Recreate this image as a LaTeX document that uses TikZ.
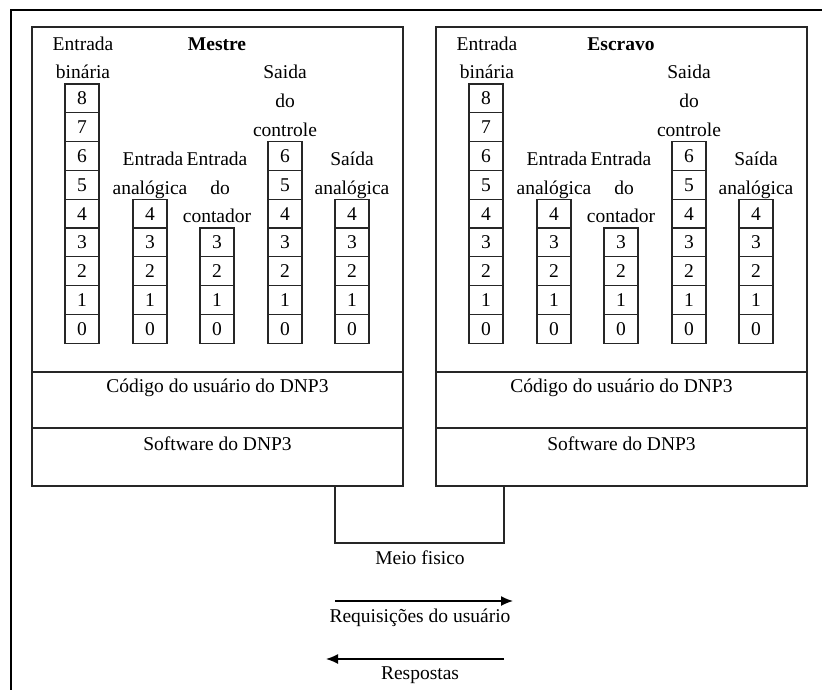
\documentclass[tikz,border=0pt]{standalone}
\usepackage{fontspec}
\setmainfont{Liberation Serif}
\usetikzlibrary{arrows.meta}
\begin{document}
\begin{tikzpicture}[x=1pt,y=-1pt,
  frame/.style={line width=2.8pt, line cap=rect},
  panel/.style={draw=black!85, line width=1.1pt, rectangle, inner sep=0pt, outer sep=0pt, minimum width=371pt},
  cell/.style={draw=black!85, line width=1.1pt, rectangle, minimum width=34pt, minimum height=28.8pt,
    inner sep=0pt, outer sep=0pt, font=\fontsize{19.5}{23}\selectfont},
  lbl/.style={anchor=base, inner sep=0pt, font=\fontsize{19.5}{23}\selectfont},
  ttl/.style={lbl, font=\fontsize{19.5}{23}\selectfont\bfseries},
  link/.style={draw=black!85, line width=1.1pt},
  flow/.style={line width=1.4pt, -{Latex[length=12pt,width=10pt]}}
]
\useasboundingbox (0,0) rectangle (822,689);

% outer frame (top and left edges only)
\draw[frame] (11,689) -- (11,10) -- (823,10);

% the two stations: master (m) and slave (e)
\foreach \s/\ox/\title in {m/0/Mestre, e/404/Escravo}{
  % panels
  \node[panel, minimum height=345pt] (\s-top)  at (\ox+217.5, 199.5) {};
  \node[panel, minimum height=56pt]  (\s-code) at (\ox+217.5, 400) {};
  \node[panel, minimum height=58pt]  (\s-soft) at (\ox+217.5, 457) {};
  \node[lbl] (\s-code-t) at (\ox+217.5, 392) {Código do usuário do DNP3};
  \node[lbl] (\s-soft-t) at (\ox+217.5, 450) {Software do DNP3};

  % point columns
  \foreach \c/\cx/\top in {bin/82/8, ana/150/4, cnt/217/3, ctl/285/6, sai/352/4}{
    \foreach \r in {0,...,\top}{
      \node[cell] (\s-\c-\r) at (\ox+\cx, {98.4+(8-\r)*28.8}) {\r};
    }
  }

  % headings
  \node[ttl] (\s-title) at (\ox+217, 50) {\title};
  \node[lbl] (\s-bin-l1) at (\ox+83, 50) {Entrada};
  \node[lbl] (\s-bin-l2) at (\ox+83, 78.8) {binária};
  \node[lbl] (\s-ctl-l1) at (\ox+285, 78.8) {Saida};
  \node[lbl] (\s-ctl-l2) at (\ox+285, 107.6) {do};
  \node[lbl] (\s-ctl-l3) at (\ox+285, 136.4) {controle};
  \node[lbl] (\s-ana-l1) at (\ox+153, 165.2) {Entrada};
  \node[lbl] (\s-ana-l2) at (\ox+150, 194) {analógica};
  \node[lbl] (\s-cnt-l1) at (\ox+217, 165.2) {Entrada};
  \node[lbl] (\s-cnt-l2) at (\ox+220, 194) {do};
  \node[lbl] (\s-cnt-l3) at (\ox+217, 222.8) {contador};
  \node[lbl] (\s-sai-l1) at (\ox+352, 165.2) {Saída};
  \node[lbl] (\s-sai-l2) at (\ox+352, 194) {analógica};
}

% physical medium linking both stations
\coordinate (mlink) at (335,543);
\coordinate (elink) at (504,543);
\draw[link] (m-soft.south -| mlink) -- (mlink) -- (elink) -- (e-soft.south -| elink);
\node[lbl] (medium) at (420,564) {Meio fisico};

% message directions
\coordinate (rq-a) at (335,601);
\coordinate (rq-b) at (513,601);
\draw[flow] (rq-a) -- (rq-b);
\node[lbl] (rq-t) at (420,622) {Requisições do usuário};

\coordinate (rs-a) at (504,659);
\coordinate (rs-b) at (326,659);
\draw[flow] (rs-a) -- (rs-b);
\node[lbl] (rs-t) at (420,679) {Respostas};
\end{tikzpicture}
\end{document}
